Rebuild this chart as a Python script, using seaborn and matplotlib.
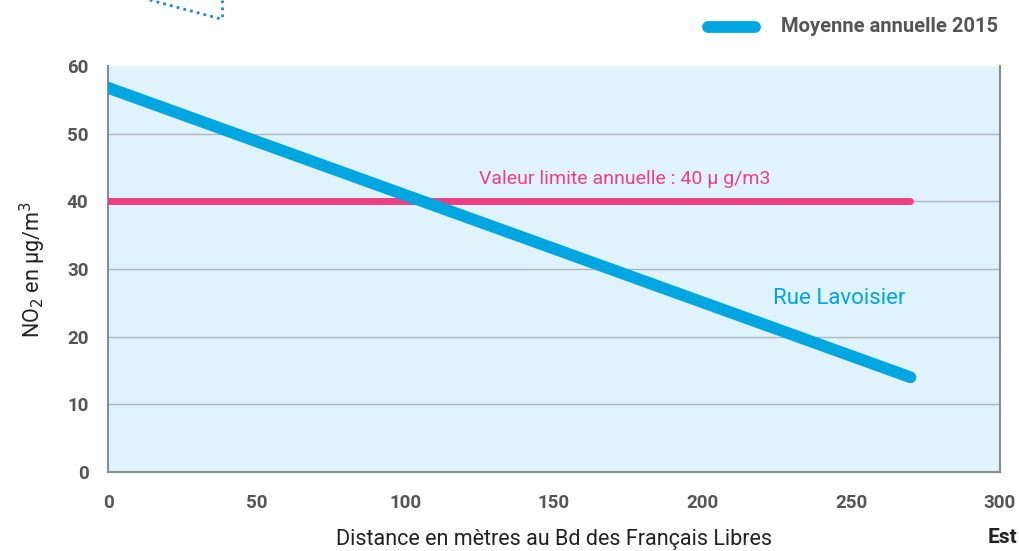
import matplotlib.pyplot as plt
import seaborn as sns
import pandas as pd
from matplotlib.lines import Line2D

# data
distance = [0, 270]
no2_lavoisier = [56.8, 14.0]
limit_x = [0, 270]
limit_y = [40, 40]

blue = "#00a6e0"
pink = "#ee3f83"
grey = "#555555"

sns.set_style("white")
plt.rcParams["font.family"] = ["Roboto", "DejaVu Sans"]

fig = plt.figure(figsize=(10.19, 5.51), dpi=100)
ax = fig.add_axes([0.106, 0.1434, 0.875, 0.7366])
ax.set_facecolor("#e0f2fb")

df = pd.DataFrame({"Distance": distance, "NO2": no2_lavoisier})
sns.lineplot(data=df, x="Distance", y="NO2", ax=ax, color=blue, linewidth=8.5,
             solid_capstyle="round", zorder=4)
lim = pd.DataFrame({"x": limit_x, "y": limit_y})
sns.lineplot(data=lim, x="x", y="y", ax=ax, color=pink, linewidth=5,
             solid_capstyle="round", zorder=3)

ax.set_xlim(0, 300)
ax.set_ylim(0, 60)
ax.set_xticks(range(0, 301, 50))
ax.set_yticks(range(0, 61, 10))
for yv in range(10, 60, 10):
    ax.axhline(yv, color="#b0b8bc", linewidth=1, zorder=1)

for s in ["left", "bottom", "right"]:
    ax.spines[s].set_color("#8a8d90")
    ax.spines[s].set_linewidth(1.5)
ax.spines["top"].set_visible(False)
ax.tick_params(axis="both", direction="out", length=6, width=1.2, color="#8a8d90",
               labelsize=13.5, labelcolor=grey, pad=8)
for lbl in ax.get_xticklabels() + ax.get_yticklabels():
    lbl.set_fontweight("bold")
ax.tick_params(axis="x", pad=10)

ax.set_xlabel("Distance en mètres au Bd des Français Libres", fontsize=15.5,
              color="#222222", labelpad=12)
ax.set_ylabel("NO$_2$ en µg/m$^3$", fontsize=15.5, color="#222222", labelpad=14)

ax.text(174, 43.3, "Valeur limite annuelle : 40 µ g/m3", color=pink, fontsize=14,
        ha="center", va="center")
ax.text(246, 25.7, "Rue Lavoisier", color=blue, fontsize=16, ha="center", va="center")

fig.text(0.998, 0.025, "Est", fontsize=15, fontweight="bold", color="#222222",
         ha="right", va="center")

# legend
fig.add_artist(Line2D([0.695, 0.741], [0.951, 0.951], color=blue, linewidth=8.5,
                      solid_capstyle="round"))
fig.text(0.766, 0.951, "Moyenne annuelle 2015", fontsize=14.5, fontweight="bold",
         color=grey, va="center")

# decorative dotted arrow cut off at top
fig.add_artist(Line2D([0.147, 0.216], [1.0, 0.966], color="#1e88d0", linewidth=2,
                      linestyle=(0, (1, 1.5))))
fig.add_artist(Line2D([0.218, 0.218], [1.0, 0.966], color="#1e88d0", linewidth=2,
                      linestyle=(0, (1, 1.5))))

fig.savefig("out.png", dpi=100)
